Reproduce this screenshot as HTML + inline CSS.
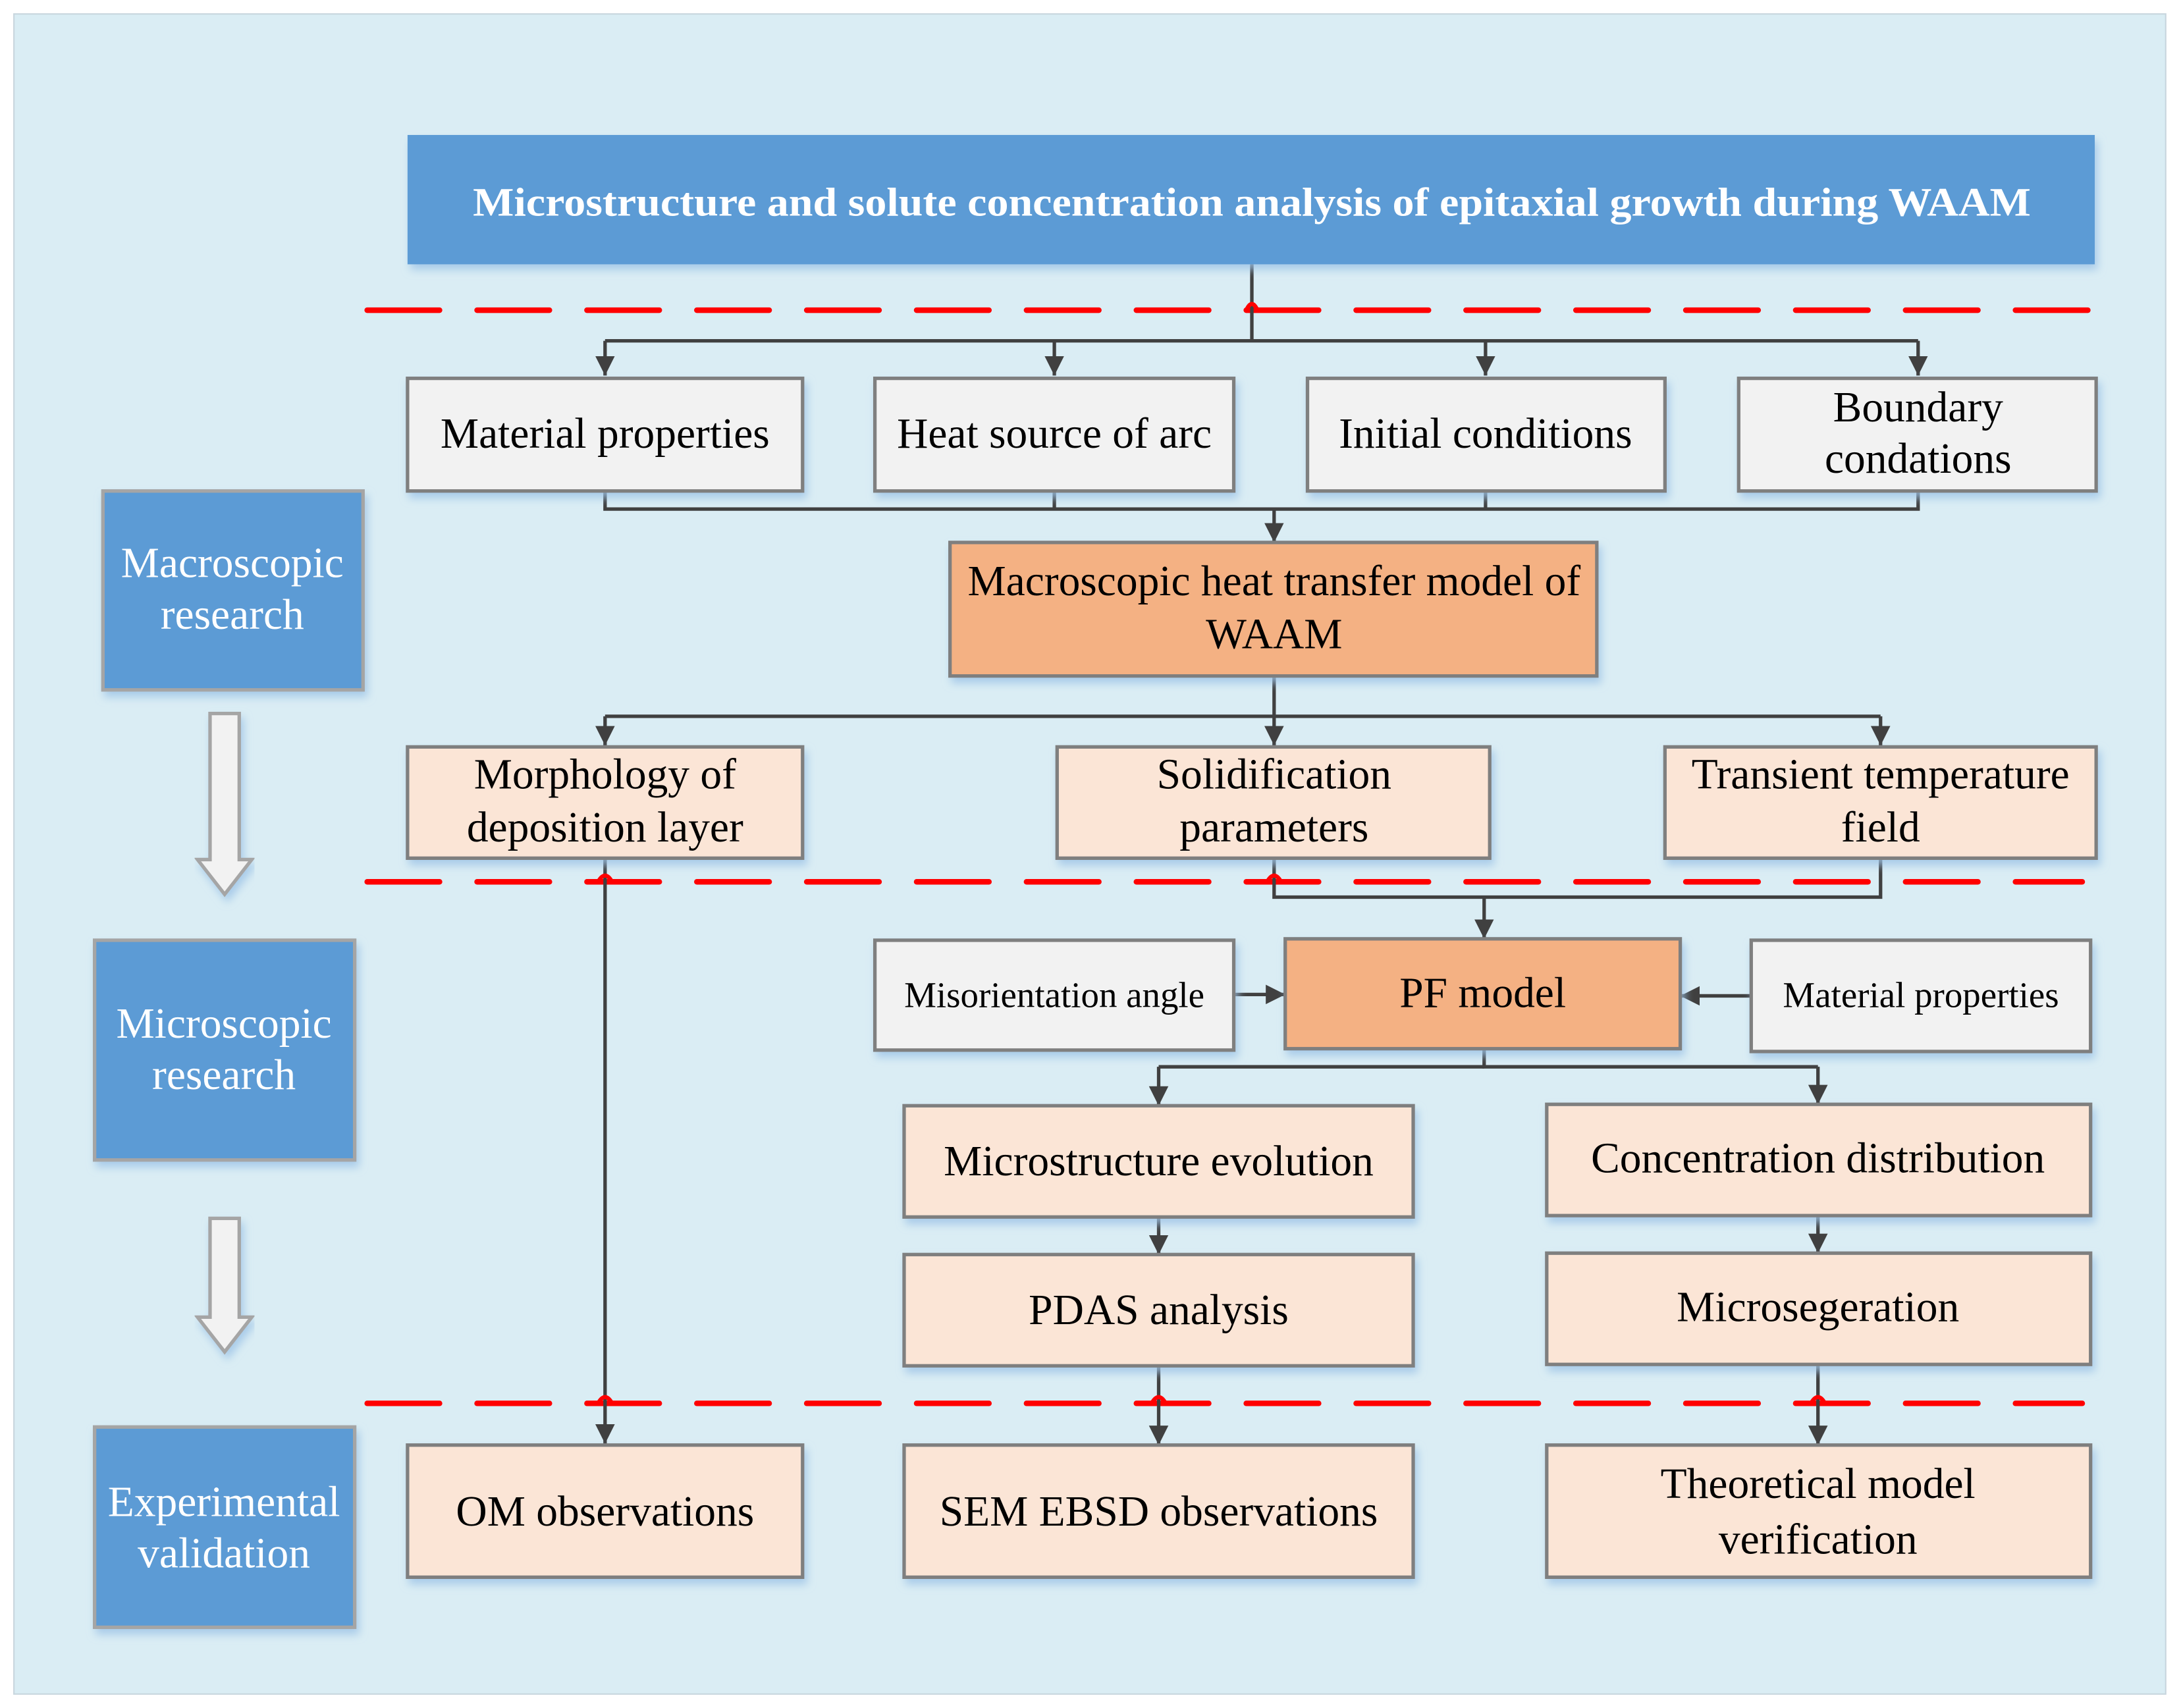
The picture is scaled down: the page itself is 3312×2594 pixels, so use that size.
<!DOCTYPE html>
<html><head><meta charset="utf-8"><style>
html,body{margin:0;padding:0;background:#fff}
svg{display:block}
text{font-family:"Liberation Serif",serif}
</style></head><body>
<svg width="3312" height="2594" viewBox="0 0 1568 1228" xmlns="http://www.w3.org/2000/svg">
<defs>
<marker id="b" markerWidth="14" markerHeight="14" refX="14" refY="7" orient="auto" markerUnits="userSpaceOnUse" viewBox="0 0 14 14"><path d="M0,0 L14,7 L0,14 z" fill="#404040"/></marker>
<filter id="sh" x="-5%" y="-5%" width="110%" height="125%"><feDropShadow dx="2" dy="4" stdDeviation="3" flood-color="#9cc3e6" flood-opacity="0.8"/></filter>
</defs>
<rect x="10" y="10" width="1547" height="1208" fill="#daedf4" stroke="#c8d6de" stroke-width="1"/>

<g stroke="#ff0000" stroke-width="4" stroke-linecap="round" stroke-dasharray="52 27" fill="none">
<line x1="264" y1="223" x2="1508" y2="223"/>
<line x1="264" y1="634" x2="1497" y2="634"/>
<line x1="264" y1="1009" x2="1497" y2="1009"/>
</g>

<g fill="none" stroke="#404040" stroke-width="2.5">
<path d="M900 190 V245"/>
<path d="M435 245 H1379"/>
<path d="M435 245 V270" marker-end="url(#b)"/>
<path d="M758 245 V270" marker-end="url(#b)"/>
<path d="M1068 245 V270" marker-end="url(#b)"/>
<path d="M1379 245 V270" marker-end="url(#b)"/>
<path d="M435 353 V366 H1379 V353"/>
<path d="M758 353 V366"/><path d="M1068 353 V366"/>
<path d="M916 366 V390" marker-end="url(#b)"/>
<path d="M916 486 V536" marker-end="url(#b)"/>
<path d="M435 515 H1352"/>
<path d="M435 515 V536" marker-end="url(#b)"/>
<path d="M1352 515 V536" marker-end="url(#b)"/>
<path d="M435 617 V1038" marker-end="url(#b)"/>
<path d="M916 617 V645 H1352 V617"/>
<path d="M1067 645 V675" marker-end="url(#b)"/>
<path d="M887 715 H924" marker-end="url(#b)"/>
<path d="M1259 716 H1208" marker-end="url(#b)"/>
<path d="M1067 754 V767 H1307"/>
<path d="M833 767 H1067"/>
<path d="M833 767 V795" marker-end="url(#b)"/>
<path d="M1307 767 V794" marker-end="url(#b)"/>
<path d="M833 875 V902" marker-end="url(#b)"/>
<path d="M1307 874 V901" marker-end="url(#b)"/>
<path d="M833 982 V1039" marker-end="url(#b)"/>
<path d="M1307 981 V1039" marker-end="url(#b)"/>
</g>
<g fill="none" stroke="#ff0000" stroke-width="3">
<path d="M896 223 Q900 214 904 223"/>
<path d="M430 634 Q435 625 440 634"/>
<path d="M911 634 Q916 625 921 634"/>
<path d="M430 1009 Q435 1000 440 1009"/>
<path d="M828 1009 Q833 1000 838 1009"/>
<path d="M1302 1009 Q1307 1000 1312 1009"/>
</g>

<rect x="293" y="97" width="1213" height="93" fill="#5b9bd5" filter="url(#sh)"/>
<text x="900" y="155" text-anchor="middle" font-size="29" font-weight="bold" fill="#fff" textLength="1120" lengthAdjust="spacingAndGlyphs">Microstructure and solute concentration analysis of epitaxial growth during WAAM</text>

<g fill="#5b9bd5" stroke="#a5a5a5" stroke-width="2.5" filter="url(#sh)">
<rect x="74" y="353" width="187" height="143"/>
<rect x="68" y="676" width="187" height="158"/>
<rect x="68" y="1026" width="187" height="144"/>
</g>
<g fill="#fff" font-size="31" text-anchor="middle">
<text x="167" y="415">Macroscopic</text><text x="167" y="452">research</text>
<text x="161" y="746">Microscopic</text><text x="161" y="783">research</text>
<text x="161" y="1090">Experimental</text><text x="161" y="1127">validation</text>
</g>
<g fill="#f2f2f2" stroke="#a5a5a5" stroke-width="2.5" filter="url(#sh)">
<path d="M151 513 H172 V618 H181 L161.5 643 L142 618 H151 Z"/>
<path d="M151 876 H172 V947 H181 L161.5 972 L142 947 H151 Z"/>
</g>

<g fill="#f2f2f2" stroke="#7f7f7f" stroke-width="2.5" filter="url(#sh)">
<rect x="293" y="272" width="284" height="81"/>
<rect x="629" y="272" width="258" height="81"/>
<rect x="940" y="272" width="257" height="81"/>
<rect x="1250" y="272" width="257" height="81"/>
<rect x="629" y="676" width="258" height="79"/>
<rect x="1259" y="676" width="244" height="80"/>
</g>
<g fill="#f4b183" stroke="#7f7f7f" stroke-width="2.5" filter="url(#sh)">
<rect x="683" y="390" width="465" height="96"/>
<rect x="924" y="675" width="284" height="79"/>
</g>
<g fill="#fbe5d6" stroke="#7f7f7f" stroke-width="2.5" filter="url(#sh)">
<rect x="293" y="537" width="284" height="80"/>
<rect x="760" y="537" width="311" height="80"/>
<rect x="1197" y="537" width="310" height="80"/>
<rect x="650" y="795" width="366" height="80"/>
<rect x="1112" y="794" width="391" height="80"/>
<rect x="650" y="902" width="366" height="80"/>
<rect x="1112" y="901" width="391" height="80"/>
<rect x="293" y="1039" width="284" height="95"/>
<rect x="650" y="1039" width="366" height="95"/>
<rect x="1112" y="1039" width="391" height="95"/>
</g>

<g fill="#000" font-size="31" text-anchor="middle">
<text x="435" y="322">Material properties</text>
<text x="758" y="322">Heat source of arc</text>
<text x="1068" y="322">Initial conditions</text>
<text x="1379" y="303">Boundary</text><text x="1379" y="340">condations</text>
<text x="916" y="428">Macroscopic heat transfer model of</text><text x="916" y="466">WAAM</text>
<text x="435" y="567">Morphology of</text><text x="435" y="605">deposition layer</text>
<text x="916" y="567">Solidification</text><text x="916" y="605">parameters</text>
<text x="1352" y="567">Transient temperature</text><text x="1352" y="605">field</text>
<text x="758" y="724" font-size="26">Misorientation angle</text>
<text x="1066" y="724">PF model</text>
<text x="1381" y="724" font-size="26">Material properties</text>
<text x="833" y="845">Microstructure evolution</text>
<text x="1307" y="843">Concentration distribution</text>
<text x="833" y="952">PDAS analysis</text>
<text x="1307" y="950">Microsegeration</text>
<text x="435" y="1097">OM observations</text>
<text x="833" y="1097">SEM EBSD observations</text>
<text x="1307" y="1077">Theoretical model</text><text x="1307" y="1117">verification</text>
</g>
</svg>
</body></html>
